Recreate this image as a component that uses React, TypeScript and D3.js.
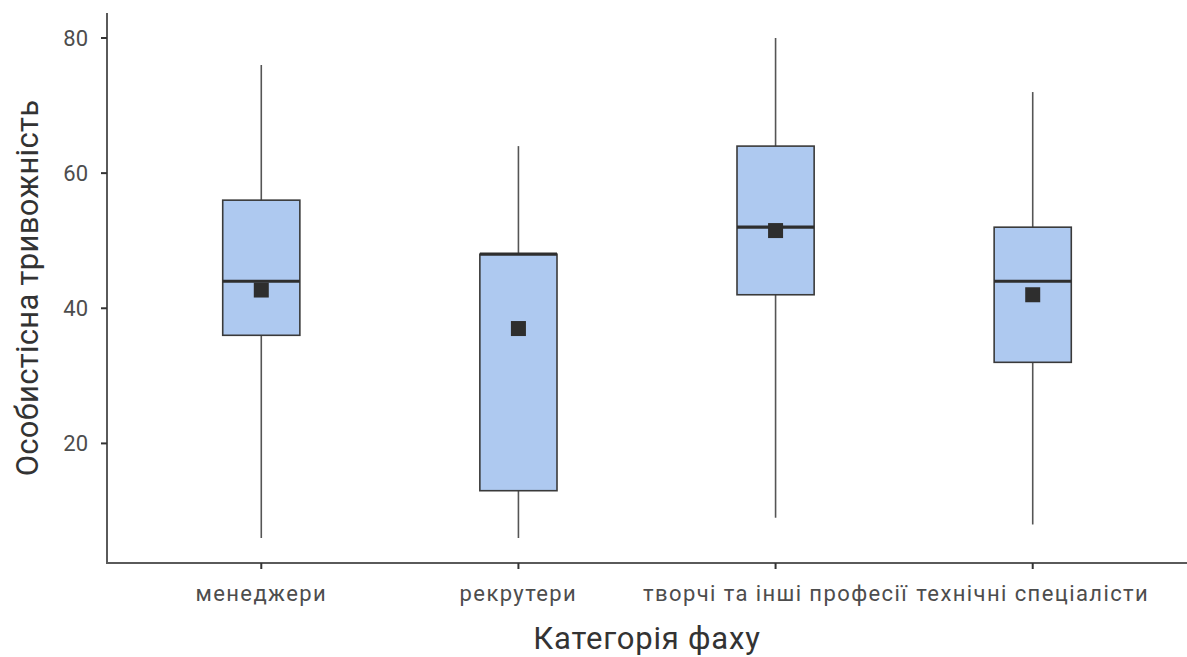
import React from "react";
import * as d3 from "d3";

// Occupational category labels (x axis)
const categories = [
  "менеджери",
  "рекрутери",
  "творчі та інші професії",
  "технічні спеціалісти",
];

// Five-number summaries per category
const whiskerLow = [6, 6, 9, 8];
const q1 = [36, 13, 42, 32];
const medians = [44, 48, 52, 44];
const q3 = [56, 48, 64, 52];
const whiskerHigh = [76, 64, 80, 72];
// Group means
const means = [42.7, 37, 51.5, 42];

const yTicks = [20, 40, 60, 80];

const W = 1187;
const H = 657;
const margin = { left: 107, right: 0, top: 13, bottom: 94 };

export default function App() {
  const plotBottom = H - margin.bottom;
  const dataMin = d3.min(whiskerLow) as number;
  const dataMax = d3.max(whiskerHigh) as number;
  const pad = (dataMax - dataMin) * 0.05;

  const y = d3
    .scaleLinear()
    .domain([dataMin - pad, dataMax + pad])
    .range([plotBottom, margin.top]);

  const x = d3
    .scalePoint<string>()
    .domain(categories)
    .range([margin.left, W - margin.right])
    .padding(0.6);

  const step = x.step();
  const boxW = step * 0.3;
  const meanSize = 15;

  const axisColor = "#5a5a5a";
  const textColor = "#4d4d4d";
  const font = "Roboto, 'Liberation Sans', Arial, sans-serif";

  return (
    <svg
      width={W}
      height={H}
      style={{ position: "absolute", left: 0, top: 0, background: "#fff" }}
      fontFamily={font}
    >
      {/* boxes */}
      {categories.map((c, i) => {
        const cx = x(c) as number;
        return (
          <g key={c}>
            <line
              x1={cx}
              x2={cx}
              y1={y(whiskerHigh[i])}
              y2={y(q3[i])}
              stroke="#555"
              strokeWidth={1.6}
            />
            <line
              x1={cx}
              x2={cx}
              y1={y(q1[i])}
              y2={y(whiskerLow[i])}
              stroke="#555"
              strokeWidth={1.6}
            />
            <rect
              x={cx - boxW / 2}
              y={y(q3[i])}
              width={boxW}
              height={y(q1[i]) - y(q3[i])}
              fill="#aec9f0"
              stroke="#3a3a3a"
              strokeWidth={1.6}
            />
            <line
              x1={cx - boxW / 2}
              x2={cx + boxW / 2}
              y1={y(medians[i])}
              y2={y(medians[i])}
              stroke="#2e2e2e"
              strokeWidth={3.2}
            />
            <rect
              x={cx - meanSize / 2}
              y={y(means[i]) - meanSize / 2}
              width={meanSize}
              height={meanSize}
              fill="#2e2e2e"
            />
          </g>
        );
      })}

      {/* y axis */}
      <line
        x1={margin.left}
        x2={margin.left}
        y1={margin.top}
        y2={plotBottom}
        stroke={axisColor}
        strokeWidth={2}
      />
      {yTicks.map((t) => (
        <g key={t}>
          <line
            x1={margin.left - 6}
            x2={margin.left}
            y1={y(t)}
            y2={y(t)}
            stroke="#333"
            strokeWidth={2}
          />
          <text
            x={margin.left - 19}
            y={y(t)}
            dy="0.35em"
            textAnchor="end"
            fontSize={22}
            fill={textColor}
          >
            {t}
          </text>
        </g>
      ))}

      {/* x axis */}
      <line
        x1={margin.left - 1}
        x2={W}
        y1={plotBottom}
        y2={plotBottom}
        stroke={axisColor}
        strokeWidth={2}
      />
      {categories.map((c) => (
        <g key={c}>
          <line
            x1={x(c)}
            x2={x(c)}
            y1={plotBottom}
            y2={plotBottom + 6}
            stroke="#333"
            strokeWidth={2}
          />
          <text
            x={x(c)}
            y={plotBottom + 30}
            dy="0.35em"
            textAnchor="middle"
            fontSize={22}
            letterSpacing={1.4}
            fill={textColor}
          >
            {c}
          </text>
        </g>
      ))}

      {/* axis titles */}
      <text
        x={(margin.left + W) / 2}
        y={638}
        textAnchor="middle"
        dy="0.35em"
        fontSize={31}
        letterSpacing={0.8}
        fill="#333"
      >
        Категорія фаху
      </text>
      <text
        transform={`translate(27, ${(margin.top + plotBottom) / 2}) rotate(-90)`}
        textAnchor="middle"
        dy="0.35em"
        fontSize={31}
        letterSpacing={0.3}
        fill="#333"
      >
        Особистісна тривожність
      </text>
    </svg>
  );
}
